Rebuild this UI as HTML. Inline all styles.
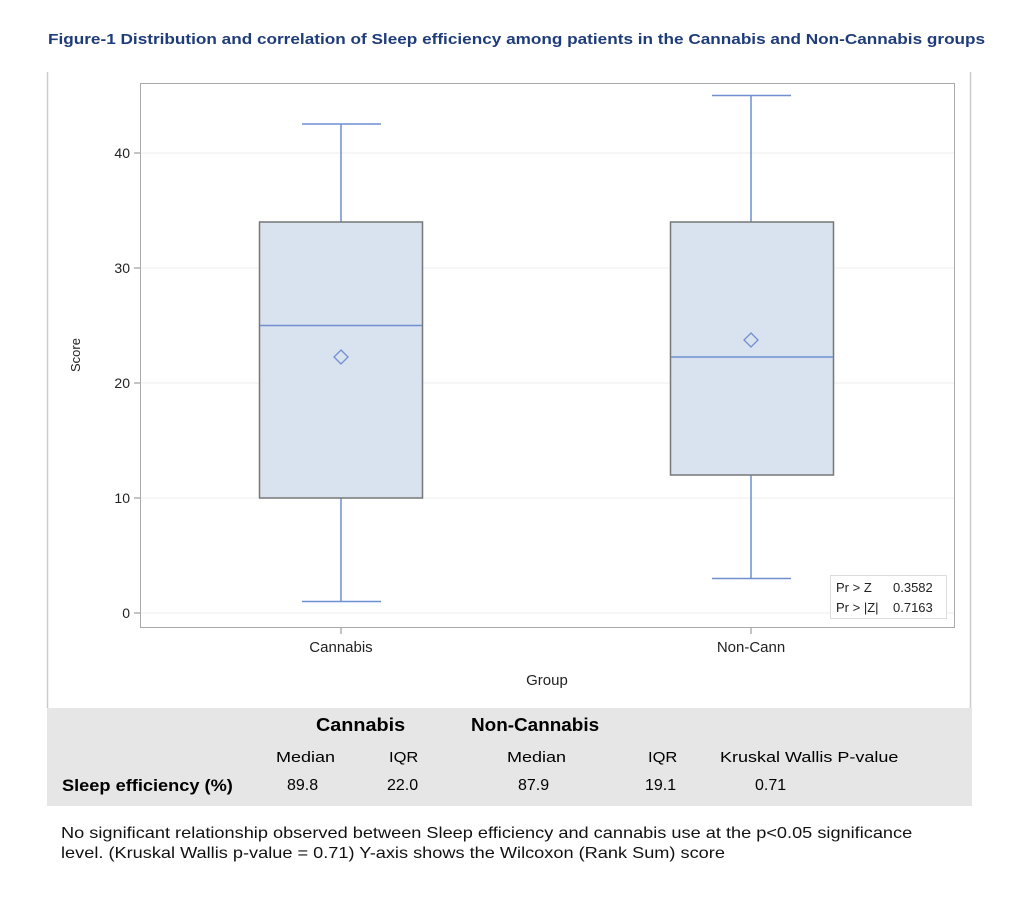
<!DOCTYPE html>
<html><head><style>
body{margin:0;width:1030px;height:924px;background:#fff;position:relative;font-family:"Liberation Sans",sans-serif;overflow:hidden}
.t{position:absolute;white-space:nowrap;transform-origin:0 0}
</style></head><body>
<div class="t" style="left:48px;top:31px;font-size:15px;font-weight:bold;color:#1f3c7a;transform:scaleX(1.145)">Figure-1 Distribution and correlation of Sleep efficiency among patients in the Cannabis and Non-Cannabis groups</div>
<svg style="position:absolute;left:0;top:0" width="1030" height="924">
<line x1="47.5" y1="72" x2="47.5" y2="708" stroke="#ccc" stroke-width="1.5"/>
<line x1="970.5" y1="72" x2="970.5" y2="708" stroke="#ccc" stroke-width="1.5"/>
<rect x="140.5" y="83.5" width="814" height="544" fill="#fff" stroke="#aaa"/>
<g stroke="#eee"><line x1="141" x2="954" y1="153" y2="153"/><line x1="141" x2="954" y1="268" y2="268"/><line x1="141" x2="954" y1="383" y2="383"/><line x1="141" x2="954" y1="498" y2="498"/><line x1="141" x2="954" y1="613" y2="613"/></g>
<g stroke="#888"><line x1="134" x2="140" y1="153" y2="153"/><line x1="134" x2="140" y1="268" y2="268"/><line x1="134" x2="140" y1="383" y2="383"/><line x1="134" x2="140" y1="498" y2="498"/><line x1="134" x2="140" y1="613" y2="613"/><line x1="341" x2="341" y1="628" y2="634"/><line x1="751" x2="751" y1="628" y2="634"/></g>
<g font-family="Liberation Sans" font-size="14" fill="#222" text-anchor="end"><text x="130" y="158">40</text><text x="130" y="273">30</text><text x="130" y="388">20</text><text x="130" y="503">10</text><text x="130" y="618">0</text></g>
<g stroke="#6f8fd0" stroke-width="1.5" fill="none">
<line x1="341" x2="341" y1="124" y2="222"/><line x1="302" x2="381" y1="124" y2="124"/>
<line x1="341" x2="341" y1="498" y2="601.5"/><line x1="302" x2="381" y1="601.5" y2="601.5"/>
<line x1="751" x2="751" y1="95.5" y2="222"/><line x1="712" x2="791" y1="95.5" y2="95.5"/>
<line x1="751" x2="751" y1="475" y2="578.5"/><line x1="712" x2="791" y1="578.5" y2="578.5"/>
</g>
<rect x="259.5" y="222" width="163" height="276" fill="#d9e2ef" stroke="#777" stroke-width="1.5"/>
<rect x="670.5" y="222" width="163" height="253" fill="#d9e2ef" stroke="#777" stroke-width="1.5"/>
<line x1="260" x2="422" y1="325.5" y2="325.5" stroke="#6f8fd0" stroke-width="1.5"/>
<line x1="671" x2="833" y1="357" y2="357" stroke="#6f8fd0" stroke-width="1.5"/>
<path d="M341 350 L348 357 L341 364 L334 357 Z" fill="none" stroke="#6f8fd0" stroke-width="1.3"/>
<path d="M751 333 L758 340 L751 347 L744 340 Z" fill="none" stroke="#6f8fd0" stroke-width="1.3"/>
<rect x="830.5" y="575.5" width="116" height="43" fill="#fff" stroke="#ddd"/>
<g font-family="Liberation Sans" font-size="13" fill="#222"><text x="836" y="592">Pr &gt; Z</text><text x="893" y="592">0.3582</text><text x="836" y="612">Pr &gt; |Z|</text><text x="893" y="612">0.7163</text></g>
<g font-family="Liberation Sans" font-size="15" fill="#222" text-anchor="middle"><text x="341" y="652">Cannabis</text><text x="751" y="652">Non-Cann</text><text x="547" y="685">Group</text></g>
<text x="80" y="355" font-family="Liberation Sans" font-size="13" fill="#222" text-anchor="middle" transform="rotate(-90 80 355)">Score</text>
<rect x="47" y="708" width="925" height="98" fill="#e6e6e6"/>
</svg>
<div class="t" style="left:316px;top:715px;font-size:18px;font-weight:bold;transform:scaleX(1.1)">Cannabis</div>
<div class="t" style="left:471px;top:715px;font-size:18px;font-weight:bold;transform:scaleX(1.05)">Non-Cannabis</div>
<div class="t" style="left:276px;top:749px;font-size:15px;transform:scaleX(1.2)">Median</div>
<div class="t" style="left:389px;top:749px;font-size:15px;transform:scaleX(1.1)">IQR</div>
<div class="t" style="left:507px;top:749px;font-size:15px;transform:scaleX(1.2)">Median</div>
<div class="t" style="left:648px;top:749px;font-size:15px;transform:scaleX(1.1)">IQR</div>
<div class="t" style="left:720px;top:749px;font-size:15px;transform:scaleX(1.2)">Kruskal Wallis P-value</div>
<div class="t" style="left:62px;top:776px;font-size:17px;font-weight:bold;transform:scaleX(1.07)">Sleep efficiency (%)</div>
<div class="t" style="left:287px;top:777px;font-size:16px">89.8</div>
<div class="t" style="left:387px;top:777px;font-size:16px">22.0</div>
<div class="t" style="left:518px;top:777px;font-size:16px">87.9</div>
<div class="t" style="left:645px;top:777px;font-size:16px">19.1</div>
<div class="t" style="left:755px;top:777px;font-size:16px">0.71</div>
<div class="t" style="left:61px;top:824px;font-size:16px;line-height:20px;color:#111;transform:scaleX(1.135)">No significant relationship observed between Sleep efficiency and cannabis use at the p&lt;0.05 significance<br>level. (Kruskal Wallis p-value = 0.71) Y-axis shows the Wilcoxon (Rank Sum) score</div>
</body></html>
